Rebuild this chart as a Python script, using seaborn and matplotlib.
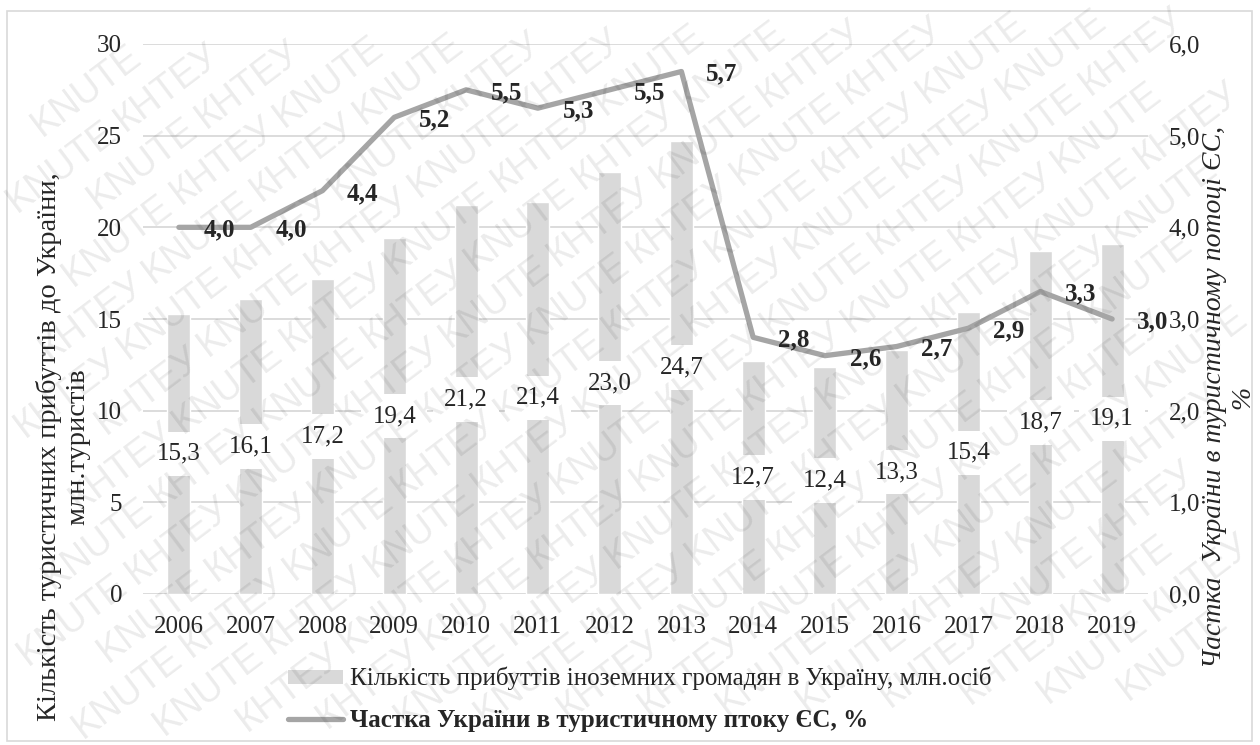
import numpy as np
import pandas as pd
import seaborn as sns
import matplotlib.pyplot as plt
from matplotlib.patches import Patch, Rectangle
from matplotlib.lines import Line2D
from matplotlib.transforms import IdentityTransform

# Data: foreign arrivals to Ukraine and Ukraine's share of EU tourist flow
years = ["2006", "2007", "2008", "2009", "2010", "2011", "2012",
         "2013", "2014", "2015", "2016", "2017", "2018", "2019"]
arrivals = [15.3, 16.1, 17.2, 19.4, 21.2, 21.4, 23.0,
            24.7, 12.7, 12.4, 13.3, 15.4, 18.7, 19.1]
eu_share = [4.0, 4.0, 4.4, 5.2, 5.5, 5.3, 5.5,
            5.7, 2.8, 2.6, 2.7, 2.9, 3.3, 3.0]

bar_name = "Кількість прибуттів іноземних громадян в Україну, млн.осіб"
line_name = "Частка України в туристичному птоку ЄС, %"
left_title = "Кількість туристичних прибуттів до України,\nмлн.туристів"
right_title = "Частка  України в туристичному потоці ЄС,\n%"
left_ticks = [0, 5, 10, 15, 20, 25, 30]
right_ticks = [0, 1, 2, 3, 4, 5, 6]
mark_words = ["KNUTE", "КНТЕУ"]

BAR_C = "#d9d9d9"
LINE_C = "#a5a5a5"
GRID_C = "#d9d9d9"
FS = 18


def comma(v):
    return f"{v:.1f}".replace(".", ",")


sns.set_theme(style="white")
plt.rcParams["font.family"] = ["Liberation Serif", "DejaVu Serif"]

df = pd.DataFrame({"year": years, "arrivals": arrivals, "share": eu_share})

W, H = 1260, 745
fig = plt.figure(figsize=(W / 100, H / 100), dpi=100)
ax = fig.add_axes([143 / W, 1 - 594 / H, (1148 - 143) / W, (594 - 44) / H])

sns.barplot(data=df, x="year", y="arrivals", color=BAR_C, saturation=1,
            width=0.32, ax=ax, zorder=2)
ax.set_xlim(-0.5, len(years) - 0.5)
ax.set_ylim(0, 30)
ax.set_yticks(left_ticks)
ax.yaxis.grid(True, color=GRID_C, lw=1.3)
ax.set_axisbelow(True)
ax.set_xlabel("")
ax.set_ylabel("")
for s in ax.spines.values():
    s.set_visible(False)
ax.tick_params(axis="y", length=0, labelsize=FS, pad=15)
ax.tick_params(axis="x", length=0, labelsize=FS, pad=16)

# value labels in the middle of each bar, on a white box
for i, v in enumerate(df["arrivals"]):
    ax.text(i, v / 2, comma(v), ha="center", va="center", fontsize=FS,
            zorder=3,
            bbox=dict(facecolor="white", edgecolor="none",
                      boxstyle="square,pad=0.45"))

ax2 = ax.twinx()
sns.lineplot(data=df, x=df.index, y="share", color=LINE_C, lw=3.8,
             ax=ax2, legend=False)
ax2.set_ylim(0, 6)
ax2.set_yticks(right_ticks)
ax2.set_yticklabels([comma(t) for t in right_ticks])
ax2.set_ylabel("")
ax2.set_xlabel("")
ax2.grid(False)
for s in ax2.spines.values():
    s.set_visible(False)
ax2.tick_params(axis="y", length=0, labelsize=FS, pad=15)
ax.set_xlim(-0.5, len(years) - 0.5)

for i, v in enumerate(df["share"]):
    ax2.annotate(comma(v), (i, v), xytext=(29, -2), textcoords="offset points",
                 ha="center", va="center", fontsize=FS, fontweight="bold",
                 annotation_clip=False)

# axis titles
fig.text(63 / W, 1 - 447 / H, left_title, rotation=90, ha="center",
         va="center", multialignment="center", fontsize=20.5, linespacing=1.2)
fig.text(1229 / W, 1 - 397 / H, right_title, rotation=90, ha="center",
         va="center", multialignment="center", fontsize=20,
         fontstyle="italic", linespacing=1.2)

# legend
handles = [Patch(facecolor=BAR_C, edgecolor="none"),
           Line2D([], [], color=LINE_C, lw=3.8)]
leg = fig.legend(handles, [bar_name, line_name], loc="upper left",
                 bbox_to_anchor=(288 / W, 1 - 667 / H), frameon=False,
                 fontsize=FS, handlelength=2.2, handleheight=0.5,
                 handletextpad=0.3, labelspacing=0.75, borderpad=0,
                 borderaxespad=0)
leg.get_texts()[1].set_fontweight("bold")

# outer frame
fig.patches.append(Rectangle((7 / W, 1 - 741 / H), (1252 - 7) / W,
                             (741 - 11) / H, transform=fig.transFigure,
                             fill=False, edgecolor=GRID_C, lw=1.2))

# diagonal watermark, word by word, kept inside the figure
ang = 37
rad = np.deg2rad(ang)
along = np.array([np.cos(rad), np.sin(rad)])
perp = np.array([-np.sin(rad), np.cos(rad)])
word_w, word_h = 120, 26
step = 132
spacing = 46
ex = (word_w * np.cos(rad) + word_h * np.sin(rad)) / 2
ey = (word_w * np.sin(rad) + word_h * np.cos(rad)) / 2
origin = np.array([W / 2, H / 2])
for k in range(-26, 27):
    for j in range(-16, 17):
        c = origin + k * spacing * perp + (j * step + (k % 2) * step / 2) * along
        if not (ex <= c[0] <= W - ex and ey <= c[1] <= H - ey):
            continue
        fig.text(c[0], c[1], mark_words[(j + k) % 2],
                 transform=IdentityTransform(), rotation=ang,
                 rotation_mode="anchor", ha="center", va="center",
                 fontsize=27, family="Liberation Sans", color="black",
                 alpha=0.08, zorder=20)

fig.savefig("out.png", dpi=100)
